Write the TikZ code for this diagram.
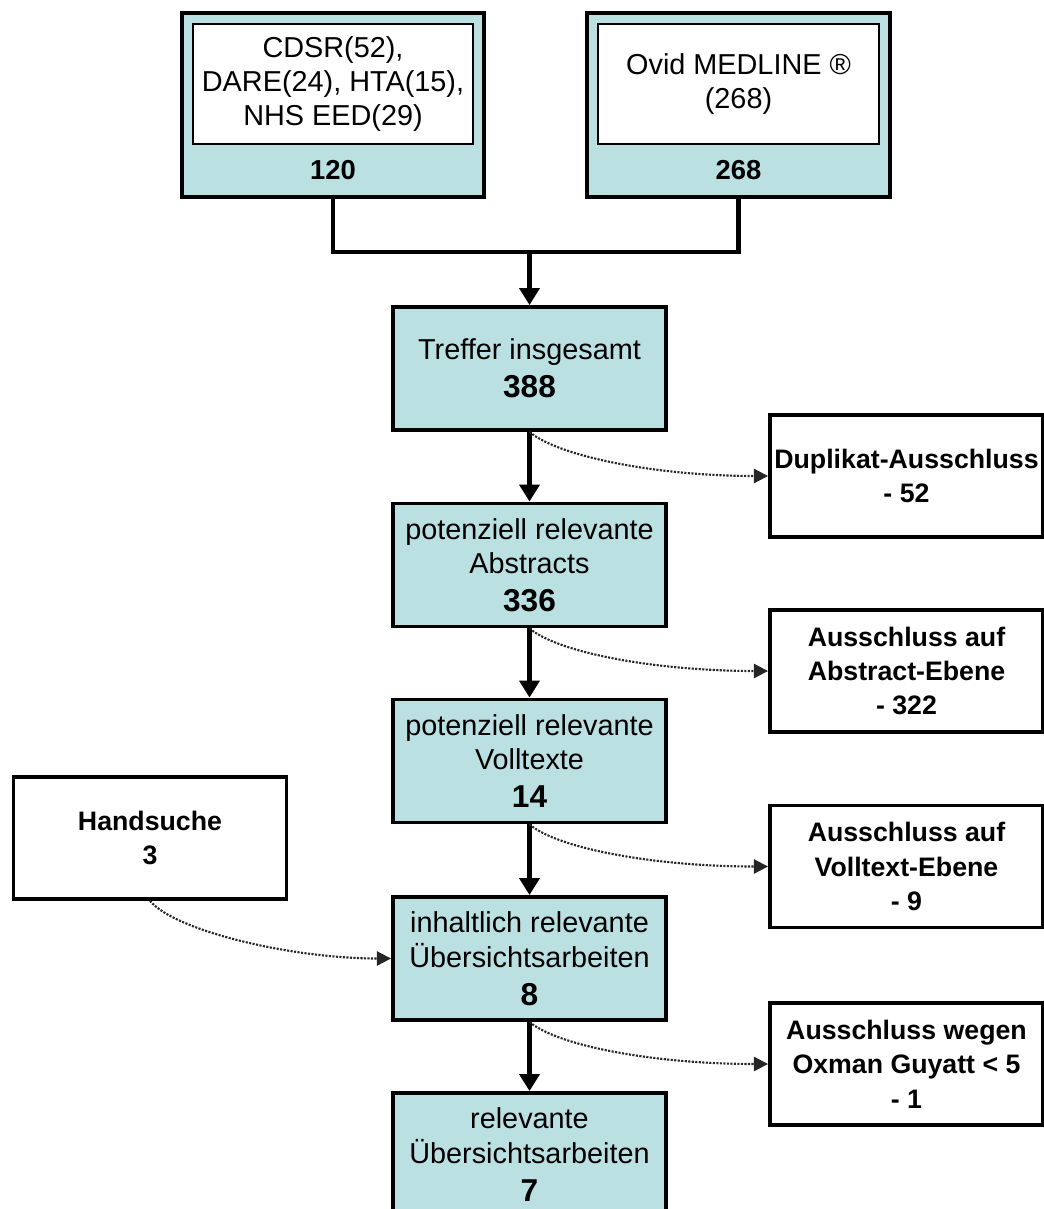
\documentclass[tikz,border=0pt]{standalone}
\usepackage{fontspec}
\setmainfont{Liberation Sans}
\usetikzlibrary{calc,arrows.meta}

\definecolor{boxblue}{RGB}{186,224,226}
\newcommand{\boxnum}[1]{{\fontsize{22.5}{26}\selectfont\bfseries #1}}

\begin{document}
\begin{tikzpicture}[x=0.025cm,y=-0.025cm,
    every node/.style={align=center,font=\fontsize{20.5}{24.5}\selectfont},
    hitbox/.style={draw,line width=2.6pt,fill=boxblue,minimum width=6.83cm,minimum height=3.08cm,inner sep=0pt},
    outbox/.style={draw,line width=2.6pt,fill=white,minimum width=6.83cm,minimum height=3.05cm,inner sep=0pt,font=\fontsize{19}{24.5}\selectfont\bfseries},
    flow/.style={line width=3pt,-{Triangle[length=12pt,width=14pt]}},
    side/.style={dash pattern=on 1.5pt off 1pt,line width=1.5pt,black!85,-{Triangle[length=10pt,width=10pt]}}]

    \useasboundingbox (0,0) rectangle (1044,1209);

    % the two databases
    \node (cdsr) [hitbox,minimum width=7.55cm,minimum height=4.6cm] at (333,105) {};
    \node (medl) [hitbox,minimum width=7.58cm,minimum height=4.6cm] at (738.5,105) {};
    \node (cdsrlist) [draw,fill=white,line width=1.6pt,minimum width=7cm,minimum height=3cm,inner sep=0pt] at (333,84)
      {CDSR(52),\\DARE(24), HTA(15),\\NHS EED(29)};
    \node (medllist) [draw,fill=white,line width=1.6pt,minimum width=7.03cm,minimum height=3cm,inner sep=0pt] at (738.5,84)
      {Ovid MEDLINE ®\\(268)};
    \node (cdsrnum) at (333,170) {\fontsize{19.5}{24}\selectfont\bfseries 120};
    \node (medlnum) at (738.5,170) {\fontsize{19.5}{24}\selectfont\bfseries 268};

    % main column
    \node (total) [hitbox] at (529.5,368.5) {Treffer insgesamt\\[2.5pt]\boxnum{388}};
    \node (abstr) [hitbox] at (529.5,565) {potenziell relevante\\Abstracts\\[2.5pt]\boxnum{336}};
    \node (volltx) [hitbox] at (529.5,761) {potenziell relevante\\Volltexte\\[2.5pt]\boxnum{14}};
    \node (inhalt) [hitbox] at (529.5,958.5) {inhaltlich relevante\\Übersichtsarbeiten\\[2.5pt]\boxnum{8}};
    \node (relev) [hitbox] at (529.5,1154.5) {relevante\\Übersichtsarbeiten\\[2.5pt]\boxnum{7}};

    % exclusions and hand search
    \node (dupl) [outbox] at (906.5,476) {Duplikat-Ausschluss\\- 52};
    \node (exabs) [outbox] at (906.5,671) {Ausschluss auf\\Abstract-Ebene\\- 322};
    \node (exvoll) [outbox] at (906.5,866.5) {Ausschluss auf\\Volltext-Ebene\\- 9};
    \node (exox) [outbox] at (906.5,1064) {Ausschluss wegen\\Oxman Guyatt < 5\\- 1};
    \node (hand) [outbox] at (150,838) {Handsuche\\3};

    % joining the databases
    \coordinate (join) at (529.5,252);
    \draw [line width=3pt] (cdsr.south) |- (join) -| (medl.south);
    \draw [flow] (join) -- (total.north);

    \draw [flow] (total) -- (abstr);
    \draw [flow] (abstr) -- (volltx);
    \draw [flow] (volltx) -- (inhalt);
    \draw [flow] (inhalt) -- (relev);

    % dotted side arrows
    \draw [side] (total.south) .. controls ($(total.south)+(30,25)$) and ($(dupl.west)+(-110,0)$) .. (dupl.west);
    \draw [side] (abstr.south) .. controls ($(abstr.south)+(30,25)$) and ($(exabs.west)+(-110,0)$) .. (exabs.west);
    \draw [side] (volltx.south) .. controls ($(volltx.south)+(30,25)$) and ($(exvoll.west)+(-110,0)$) .. (exvoll.west);
    \draw [side] (inhalt.south) .. controls ($(inhalt.south)+(30,25)$) and ($(exox.west)+(-110,0)$) .. (exox.west);
    \draw [side] (hand.south) .. controls ($(hand.south)+(25,30)$) and ($(inhalt.west)+(-100,0)$) .. (inhalt.west);
\end{tikzpicture}
\end{document}
